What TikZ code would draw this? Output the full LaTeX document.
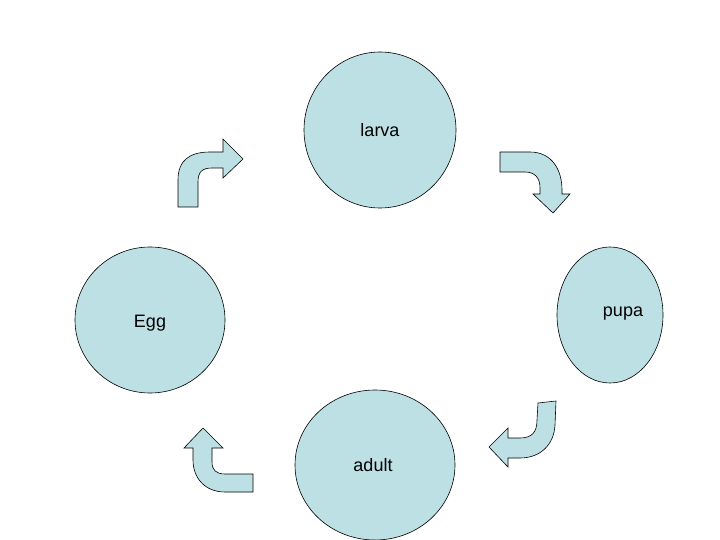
\documentclass[tikz,border=0pt]{standalone}
\usepackage{fontspec}
\setmainfont{Liberation Sans}
\usetikzlibrary{shapes.geometric}
\definecolor{fillc}{RGB}{189,224,228}
\begin{document}
\begin{tikzpicture}[x=1pt,y=-1pt,
  blob/.style={draw=black,fill=fillc,line width=0.6pt},
  lbl/.style={font=\fontsize{18}{20}\selectfont}]
\useasboundingbox (0,0) rectangle (720,540);
\begin{scope}
\clip (0,0) rectangle (720,540);
\node[blob,ellipse,minimum width=152pt,minimum height=156pt,inner sep=0pt] (larva) at (380,130) {};
\node[blob,ellipse,minimum width=150pt,minimum height=146pt,inner sep=0pt] (egg) at (150,320) {};
\node[blob,ellipse,minimum width=106pt,minimum height=136pt,inner sep=0pt] (pupa) at (610,315) {};
\node[blob,ellipse,minimum width=160pt,minimum height=150pt,inner sep=0pt] (adult) at (375,465) {};
\end{scope}
\node[lbl] (tl) at (380,130) {larva};
\node[lbl] (te) at (150,323) {Egg};
\node[lbl] (tp) at (623,314) {pupa};
\node[lbl] (ta) at (373,465) {adult};
\draw[blob] (178,207)--(178,180) .. controls (178,160) and (190,152) .. (210,152) -- (223,152)--(223,139)--(243,159)--(223,178)--(223,168)--(212,168) .. controls (202,168) and (198,172) .. (198,182) -- (198,207) -- cycle;
\draw[blob] (500,152)--(530,152) .. controls (552,152) and (562,170) .. (562,190) -- (562,194) -- (570,194) -- (553,213) -- (533,194) -- (540,194) -- (540,188) .. controls (540,178) and (535,172) .. (525,172) -- (500,172) -- cycle;
\draw[blob] (538,403)--(556,401)--(555,425) .. controls (554,445) and (540,458) .. (520,458) -- (508,458) -- (508,467) -- (489,447) -- (508,428) -- (508,438) -- (520,438) .. controls (532,438) and (537,432) .. (537,420) -- cycle;
\draw[blob] (203,428)--(223,448)--(212,448)--(212,462) .. controls (212,470) and (216,474) .. (225,474) -- (253,474) -- (253,492) -- (225,492) .. controls (205,492) and (193,478) .. (193,460) -- (193,448) -- (184,448) -- cycle;
\end{tikzpicture}
\end{document}
